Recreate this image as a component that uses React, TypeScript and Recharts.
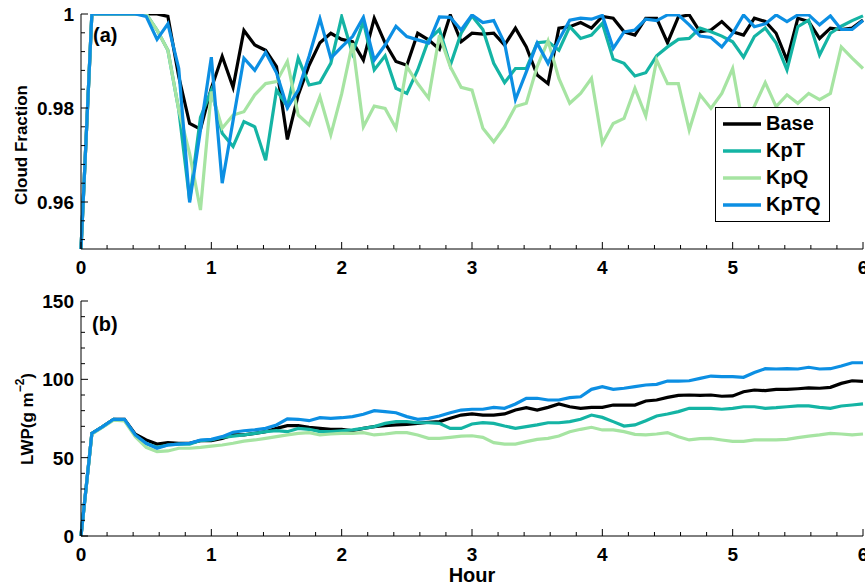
import { LineChart, Line, XAxis, YAxis, Legend, Customized } from "recharts";

// 5-minute output, 0..6 h
const hours = Array.from({ length: 73 }, (_, i) => i / 12);

const hourTicks = [
  0, 0.2, 0.4, 0.6, 0.8, 1, 1.2, 1.4, 1.6, 1.8, 2, 2.2, 2.4, 2.6, 2.8, 3,
  3.2, 3.4, 3.6, 3.8, 4, 4.2, 4.4, 4.6, 4.8, 5, 5.2, 5.4, 5.6, 5.8, 6,
];
const cfTicks = [
  0.952, 0.956, 0.96, 0.964, 0.968, 0.972, 0.976, 0.98, 0.984, 0.988, 0.992,
  0.996, 1,
];
const cfMajor = [0.96, 0.98, 1];
const lwpTicks = [0, 10, 20, 30, 40, 50, 60, 70, 80, 90, 100, 110, 120, 130, 140, 150];
const lwpMajor = [0, 50, 100, 150];

const cfBase = [
  0.95, 1, 1, 1, 1, 1, 1, 1, 0.9995, 0.9867, 0.9767, 0.9755, 0.9842, 0.991,
  0.9844, 0.9965, 0.9934, 0.9923, 0.9888, 0.9733, 0.9828, 0.9891, 0.9939,
  0.9959, 0.9946, 0.9941, 0.9902, 0.9991, 0.9938, 0.9899, 0.9891, 0.9959,
  0.9945, 0.9925, 0.9998, 0.9941, 0.9959, 0.9957, 0.9959, 0.9934, 0.997,
  0.993, 0.987, 0.9852, 0.997, 0.9973, 0.9982, 0.997, 0.9995, 0.9991, 0.9962,
  0.9955, 0.9991, 0.9991, 0.9939, 0.9994, 0.9998, 0.9962, 0.9966, 0.9984,
  0.9962, 0.9955, 0.9991, 0.9984, 0.9959, 0.9902, 0.9991, 0.9984, 0.9948,
  0.997, 0.9967, 0.997, 0.9987,
];
const cfKpT = [
  0.95, 1, 1, 1, 1, 1, 1, 0.9966, 0.9923, 0.9796, 0.9604, 0.978, 0.9838,
  0.9746, 0.9718, 0.9771, 0.976, 0.9689, 0.9838, 0.9803, 0.9906, 0.9849,
  0.9854, 0.9895, 0.9994, 0.9916, 0.9984, 0.9881, 0.9911, 0.9842, 0.9831,
  0.9881, 0.9945, 0.9967, 0.9891, 0.9959, 0.9996, 0.9967, 0.9895, 0.9854,
  0.9884, 0.9884, 0.9939, 0.9941, 0.9923, 0.9973, 0.9948, 0.9955, 0.998,
  0.9904, 0.9895, 0.9868, 0.9875, 0.9911, 0.993, 0.9946, 0.9948, 0.997,
  0.9962, 0.9953, 0.9941, 0.9908, 0.9952, 0.997, 0.9938, 0.9881, 0.9973,
  0.9987, 0.9913, 0.9959, 0.9974, 0.9986, 0.9996,
];
const cfKpQ = [
  0.95, 1, 1, 1, 1, 1, 1, 0.9966, 0.9923, 0.9796, 0.9703, 0.9583, 0.9835,
  0.9757, 0.9785, 0.9792, 0.9828, 0.9852, 0.9856, 0.9899, 0.9785, 0.9764,
  0.9824, 0.9743, 0.983, 0.9938, 0.976, 0.9804, 0.9799, 0.9757, 0.9888,
  0.9852, 0.9821, 0.9955, 0.9888, 0.9844, 0.9838, 0.9757, 0.9728, 0.976,
  0.9803, 0.981, 0.9888, 0.9943, 0.9863, 0.981, 0.9831, 0.9863, 0.9725,
  0.9767, 0.9778, 0.9842, 0.9783, 0.9902, 0.9852, 0.9852, 0.9753, 0.9828,
  0.9799, 0.9831, 0.9884, 0.9757, 0.9804, 0.9854, 0.9803, 0.9828, 0.981,
  0.9831, 0.9818, 0.9831, 0.993, 0.9906, 0.9884,
];
const cfKpTQ = [
  0.95, 1, 1, 1, 1, 1, 0.9995, 0.9946, 0.9979, 0.9884, 0.9599, 0.9753,
  0.9908, 0.964, 0.9773, 0.9906, 0.988, 0.9918, 0.9875, 0.98, 0.9838, 0.991,
  0.999, 0.9906, 0.993, 0.9952, 0.9993, 0.9902, 0.9934, 0.9974, 0.9952,
  0.9945, 0.9938, 0.9994, 0.9993, 0.9966, 0.9998, 0.9982, 0.9986, 0.9938,
  0.9818, 0.9877, 0.9938, 0.9895, 0.9945, 0.9987, 0.9991, 0.9989, 0.9997,
  0.9927, 0.9962, 0.9966, 0.9989, 0.9986, 0.9998, 0.9998, 0.9977, 0.9953,
  0.995, 0.993, 0.9959, 0.9998, 0.9973, 0.9979, 0.9998, 0.9984, 0.9998,
  0.9998, 0.9977, 0.9996, 0.9967, 0.9967, 0.9986,
];

const lwpBase = [
  0, 65.5, 69.8, 74.5, 74.5, 65, 61.3, 58.7, 59.6, 59.2, 59.2, 60.9, 60.9,
  62.3, 64.5, 64.5, 65.5, 66.6, 68.7, 70.4, 70.4, 69.4, 68.7, 68.1, 68.1,
  67.2, 68.7, 69.8, 70.4, 70.9, 71.3, 71.9, 72.6, 73, 75.1, 77.2, 77.9, 77.2,
  77.2, 77.9, 80.4, 81.9, 80.4, 82.1, 84.3, 82.5, 81.5, 82.1, 82.1, 83.6,
  83.6, 83.6, 86.2, 86.8, 88.5, 89.8, 90, 89.8, 90, 89.2, 89.4, 92.1, 93.2,
  92.8, 93.6, 93.6, 94, 94.5, 94.3, 94.9, 97.4, 99.1, 98.7,
];
const lwpKpT = [
  0, 65.5, 69.8, 74.5, 74, 64, 59, 56.6, 58.1, 58.7, 58.7, 60.9, 61.3, 63,
  63.8, 64.5, 65.5, 66.6, 67.2, 66.6, 68.7, 68.1, 66.6, 66.6, 67.2, 67.7,
  68.7, 69.8, 71.9, 73, 73, 72.3, 72.3, 71.9, 68.7, 68.7, 71.5, 72.3, 71.9,
  70.2, 68.7, 69.8, 70.9, 72.3, 72.3, 73, 74.5, 77.2, 75.7, 73, 70.2, 70.9,
  73.6, 76.6, 77.9, 79.4, 81.5, 81.5, 81.5, 80.9, 81.5, 82.5, 82.5, 81.5,
  81.9, 82.5, 83, 83, 82.1, 81.5, 83, 83.6, 84.3,
];
const lwpKpQ = [
  0, 65, 69.5, 74, 73.5, 63.4, 56.6, 53.8, 54.3, 56, 56, 56.6, 57.4, 58.1,
  59.2, 60.6, 61.3, 62.3, 63.4, 64.5, 65.5, 66, 64.5, 65.1, 65.5, 65.5, 66,
  64.5, 65.1, 66, 66, 64.5, 62.3, 62.3, 63, 63.8, 64, 63, 59.6, 58.7, 58.7,
  60.2, 61.7, 62.3, 63.8, 66.6, 68.1, 69.4, 67.7, 67.7, 66.6, 64.9, 64.5,
  65.1, 66, 63.4, 61.3, 62.1, 62.3, 61.3, 60.4, 60.4, 61.3, 61.3, 61.3, 61.7,
  62.8, 63.8, 64.5, 65.5, 65.1, 64.5, 65.1,
];
const lwpKpTQ = [
  0, 65.5, 69.8, 74.5, 74.5, 64.5, 59.2, 56, 58.1, 58.7, 59.2, 61.3, 61.7,
  63.4, 66.2, 67.2, 67.7, 68.7, 70.9, 74.7, 74.5, 73.6, 75.5, 75.1, 75.5,
  76.2, 77.7, 80, 79.4, 78.7, 76.2, 74.5, 75.1, 76.6, 78.7, 80.4, 80.9, 80.9,
  82.1, 81.5, 84.3, 87.9, 87.9, 86.8, 86.8, 88.3, 88.9, 93.6, 95.3, 93.6,
  94.3, 95.3, 96.4, 96.8, 98.9, 98.9, 99.1, 100.6, 102.1, 101.7, 101.7,
  101.3, 104.3, 106.8, 106.6, 106.8, 106.6, 107.7, 106.6, 106.8, 108.5,
  110.6, 110.6,
];

const series = [
  { key: "Base", color: "#000000" },
  { key: "KpT", color: "#14b4a4" },
  { key: "KpQ", color: "#a6e4a2" },
  { key: "KpTQ", color: "#0c8fe3" },
];

const cfData = hours.map((h, i) => ({
  hour: h,
  Base: cfBase[i],
  KpT: cfKpT[i],
  KpQ: cfKpQ[i],
  KpTQ: cfKpTQ[i],
}));
const lwpData = hours.map((h, i) => ({
  hour: h,
  Base: lwpBase[i],
  KpT: lwpKpT[i],
  KpQ: lwpKpQ[i],
  KpTQ: lwpKpTQ[i],
}));

const FONT = "'Liberation Sans', Arial, Helvetica, sans-serif";
const MAJOR = 7;
const MINOR = 4;

function XTick(props: any) {
  const { x, y, payload, side } = props;
  const major = Number.isInteger(payload.value);
  const len = major ? MAJOR : MINOR;
  if (side === "top") {
    return <line x1={x} y1={y} x2={x} y2={y + len} stroke="#000" />;
  }
  return (
    <g>
      <line x1={x} y1={y} x2={x} y2={y - len} stroke="#000" />
      {major && (
        <text x={x} y={y + 25} textAnchor="middle" fontFamily={FONT} fontWeight="bold" fontSize={19} fill="#000">
          {payload.value}
        </text>
      )}
    </g>
  );
}

function YTick(props: any) {
  const { x, y, payload, side, majors } = props;
  const major = majors.includes(payload.value);
  const len = major ? MAJOR : MINOR;
  if (side === "right") {
    return <line x1={x} y1={y} x2={x - len} y2={y} stroke="#000" />;
  }
  return (
    <g>
      <line x1={x} y1={y} x2={x + len} y2={y} stroke="#000" />
      {major && (
        <text x={x - 7} y={y + 7} textAnchor="end" fontFamily={FONT} fontWeight="bold" fontSize={19} fill="#000">
          {String(payload.value)}
        </text>
      )}
    </g>
  );
}

function PanelLabel({ text, x, y }: { text: string; x: number; y: number }) {
  return (
    <text x={x} y={y} fontFamily={FONT} fontWeight="bold" fontSize={20} fill="#000">
      {text}
    </text>
  );
}

function LegendBox() {
  return (
    <div
      style={{
        width: 115,
        height: 115,
        boxSizing: "border-box",
        border: "1px solid #000",
        background: "#fff",
        paddingTop: 2,
        fontFamily: FONT,
        fontWeight: "bold",
        fontSize: 20,
      }}
    >
      {series.map((s) => (
        <div key={s.key} style={{ display: "flex", alignItems: "center", height: 27, lineHeight: "27px" }}>
          <svg width={50} height={8} style={{ display: "block" }}>
            <line x1={7} y1={4} x2={45} y2={4} stroke={s.color} strokeWidth={3.5} />
          </svg>
          <span>{s.key}</span>
        </div>
      ))}
    </div>
  );
}

function axesFor(
  ticks: number[],
  domain: [number, number],
  majors: number[],
  xHeight: number,
  xLabel?: any
) {
  return [
    <XAxis
      key="xb"
      xAxisId="b"
      dataKey="hour"
      type="number"
      domain={[0, 6]}
      ticks={hourTicks}
      interval={0}
      height={xHeight}
      tickSize={0}
      tickMargin={0}
      tickLine={false}
      axisLine={{ stroke: "#000" }}
      tick={(p: any) => <XTick {...p} side="bottom" />}
      label={xLabel}
    />,
    <XAxis
      key="xt"
      xAxisId="t"
      orientation="top"
      dataKey="hour"
      type="number"
      domain={[0, 6]}
      ticks={hourTicks}
      interval={0}
      height={0}
      tickSize={0}
      tickMargin={0}
      tickLine={false}
      axisLine={{ stroke: "#000" }}
      tick={(p: any) => <XTick {...p} side="top" />}
    />,
    <YAxis
      key="yl"
      yAxisId="l"
      type="number"
      domain={domain}
      ticks={ticks}
      interval={0}
      width={81}
      allowDataOverflow
      tickSize={0}
      tickMargin={0}
      tickLine={false}
      axisLine={{ stroke: "#000" }}
      tick={(p: any) => <YTick {...p} side="left" majors={majors} />}
    />,
    <YAxis
      key="yr"
      yAxisId="r"
      orientation="right"
      type="number"
      domain={domain}
      ticks={ticks}
      interval={0}
      width={0}
      allowDataOverflow
      tickSize={0}
      tickMargin={0}
      tickLine={false}
      axisLine={{ stroke: "#000" }}
      tick={(p: any) => <YTick {...p} side="right" majors={majors} />}
    />,
  ];
}

function lines() {
  return series.map((s) => (
    <Line
      key={s.key}
      xAxisId="b"
      yAxisId="l"
      type="linear"
      dataKey={s.key}
      name={s.key}
      stroke={s.color}
      strokeWidth={3.2}
      dot={false}
      activeDot={false}
      isAnimationActive={false}
    />
  ));
}

export default function App() {
  return (
    <div style={{ position: "absolute", left: 0, top: 0, width: 865, height: 584, background: "#fff" }}>
      <div style={{ position: "absolute", left: 0, top: 0 }}>
        <LineChart width={865} height={280} data={cfData} margin={{ top: 14, right: 2, bottom: 0, left: 0 }}>
          {axesFor(cfTicks, [0.95, 1], cfMajor, 31)}
          {lines()}
          <Customized component={<PanelLabel text="(a)" x={93} y={42} />} />
          <Customized
            component={
              <text
                x={21}
                y={145}
                transform="rotate(-90, 21, 145)"
                textAnchor="middle"
                dominantBaseline="central"
                fontFamily={FONT}
                fontWeight="bold"
                fontSize={17}
                fill="#000"
              >
                Cloud Fraction
              </text>
            }
          />
          <Legend
            layout="vertical"
            verticalAlign="middle"
            align="center"
            content={() => <LegendBox />}
            wrapperStyle={{ left: 715, top: 107, width: 115, height: 115 }}
          />
        </LineChart>
      </div>
      <div style={{ position: "absolute", left: 0, top: 280 }}>
        <LineChart width={865} height={304} data={lwpData} margin={{ top: 21, right: 2, bottom: 0, left: 0 }}>
          {axesFor(lwpTicks, [0, 150], lwpMajor, 48, {
            value: "Hour",
            position: "insideBottom",
            offset: 2,
            fontFamily: FONT,
            fontWeight: "bold",
            fontSize: 20,
            fill: "#000",
          })}
          {lines()}
          <Customized component={<PanelLabel text="(b)" x={92} y={51} />} />
          <Customized
            component={
              <text
                x={27}
                y={139}
                transform="rotate(-90, 27, 139)"
                textAnchor="middle"
                dominantBaseline="central"
                fontFamily={FONT}
                fontWeight="bold"
                fontSize={17}
                fill="#000"
              >
                LWP(g m
                <tspan dy={-7} fontSize={12}>
                  −2
                </tspan>
                <tspan dy={7}>)</tspan>
              </text>
            }
          />
        </LineChart>
      </div>
    </div>
  );
}
